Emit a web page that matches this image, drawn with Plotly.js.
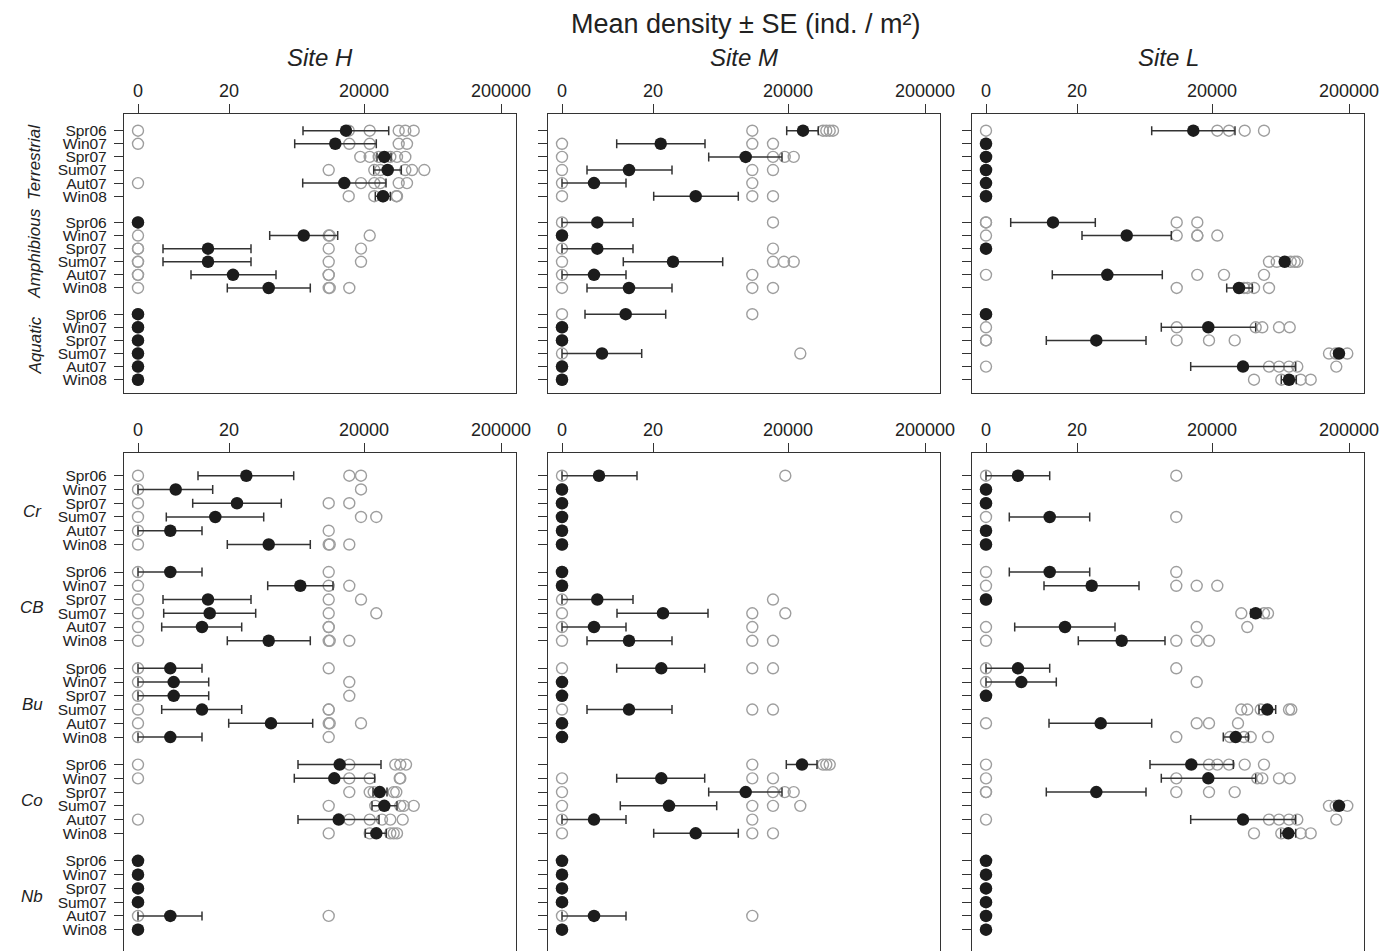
<!DOCTYPE html>
<html><head><meta charset="utf-8">
<script src="https://cdn.plot.ly/plotly-3.0.1.min.js"></script>
<style>html,body{margin:0;padding:0;overflow:hidden;background:#fff}#chart{width:1394px;height:1000px}</style>
</head><body><div id="chart"></div><script>
// ---- categories ----
const seasons = ["Spr06","Win07","Spr07","Sum07","Aut07","Win08"];
const habitatGroups = ["Terrestrial","Amphibious","Aquatic"];
const taxonGroups = ["Cr","CB","Bu","Co","Nb"];
const sites = ["Site H","Site M","Site L"];
const titleText = "Mean density \u00b1 SE (ind. / m\u00b2)";
// transformed density axis: tick positions and labels
const xTickVals = [0, 91, 226, 363];
const xTickText = ["0","20","20000","200000"];

// ---- habitat panels (values on the transformed density scale) ----
const habH_mean = [208,197.3,246.3,249.7,206.3,245, 0,165.7,70,70,95,130.7, 0,0,0,0,0,0];
const habH_lo   = [165,156.7,239,235.7,164.7,237.3, 0,131.7,25,25,53,89.3, 0,0,0,0,0,0];
const habH_hi   = [250.7,238.3,253,263.3,248,252.3, 0,199.7,113,113,138,172.3, 0,0,0,0,0,0];
const habH_reps = [
 [0,210.7,231.7,260.7,267.3,275.7],[0,211.3,231.7,260.7,269],[222.3,231.7,240.7,252.3,259,267.3],
 [190.7,236.3,242.3,267.3,274,286.3],[0,223,236.3,242.3,260.7,269],[210.7,236.3,245,258.3,259],
 [0],[0,190.7,191.7,231.7],[0,0,190.7,223],[0,0,190.7,223],[0,0,190.7,190.7],[0,190.7,191.7,211.3],
 [0],[0],[0],[0],[0],[0]
];

const habM_mean = [241,98.7,183.7,67,32,133.7, 35.3,0,35.3,111,32,67, 63.7,0,0,40,0,0];
const habM_lo   = [224.7,54.7,146.7,25,0,91.7, 0,0,0,61.3,0,25, 23,0,0,0,0,0];
const habM_hi   = [256.3,143,220,110,64,176.3, 71,0,71,160.7,64,110, 103.7,0,0,79.7,0,0];
const habM_reps = [
 [190.3,261,264.3,267.7,271],[0,190.3,211],[0,211,222.7,231.7],[0,190.3,211],[0,190.3],[0,190.3,211],
 [0,211],[0],[0,211],[0,211,222,231.7],[0,190.3],[0,190.3,211],
 [0,190.3],[0],[0],[0,238.3],[0],[0]
];

const habL_mean = [207.3,0,0,0,0,0, 67,140.7,0,298.7,121.3,253, 0,222.3,110.3,353,257,303];
const habL_lo   = [165.7,0,0,0,0,0, 24.7,96,0,296.3,66.3,240.7, 0,175.3,60.3,351,204.7,295.3];
const habL_hi   = [249,0,0,0,0,0, 109.3,185.3,0,301.3,176.3,266.3, 0,269.7,160,355,309.7,310.3];
const habL_reps = [
 [0,231.3,243,258.7,278],[0],[0],[0],[0],[0],
 [0,0,190.7,211.3],[0,190.7,211.3,211.3,231.3],[0],[283,290.7,304.7,308.7,311.3],[0,211.3,238,278],[190.7,258,261.3,268,283],
 [0],[0,190.7,269.7,276.3,293,303.7],[0,0,190.7,223,248.7],[343,349.7,361.3],[0,283,293,303,311.3,350.3],[268,295.3,314.7,324.7]
];

// ---- taxon panels ----
const taxH_mean = [108.3,37.7,99,77.3,32.3,130.7, 32.3,162.3,70,71.7,64,130.7, 32.3,35.7,35.7,64,133,32.3, 201.7,196.3,241.7,246.3,200.7,238.3, 0,0,0,0,32.3,0];
const taxH_lo   = [60,0,54.7,28.3,0,89.3, 0,129.7,25,25.7,23.7,89.3, 0,0,0,23.7,90.7,0, 160,156.3,235,234,160,227.3, 0,0,0,0,0,0];
const taxH_hi   = [155.7,74.7,143.3,125.7,64,172.3, 64,195,113,117.7,103.7,172.3, 64,70.7,70.7,103.7,174.7,64, 243,236.7,249,259,241,248.3, 0,0,0,0,64,0];
const taxH_reps = [
 [0,211.3,223],[0,223],[0,190.7,211.3],[0,223,238.3],[0,190.7],[0,190.7,191.7,211.3],
 [0,190.7],[0,190.7,211.3],[0,190.7,223],[0,190.7,238.3],[0,190.7,190.7],[0,190.7,191.7,211.3],
 [0,190.7],[0,211.3],[0,211.3],[0,190.7,190.7],[0,190.7,191.7,223],[0,190.7],
 [0,211.3,257.3,262.3,268],[0,211.3,231.7,261.7,262.3],[211.3,231.7,235.7,255.7,258.3],[190.7,237.3,262.3,265.7,275.7],[0,211.3,231.7,244,252.3,264.7],[190.7,231.7,252.3,255.7,259],
 [0],[0],[0],[0],[0,190.7],[0]
];

const taxM_mean = [37,0,0,0,0,0, 0,0,35.3,101,32,67, 99.3,0,0,67,0,0, 240,99.3,183.7,107,32,133.7, 0,0,0,0,32,0];
const taxM_lo   = [0,0,0,0,0,0, 0,0,0,55,0,25, 54.7,0,0,25,0,0, 224.3,54.7,146.7,58.3,0,91.7, 0,0,0,0,0,0];
const taxM_hi   = [75,0,0,0,0,0, 0,0,71,146,64,110, 142.7,0,0,110,0,0, 255,142.7,220,154.7,64,176.3, 0,0,0,0,64,0];
const taxM_reps = [
 [0,223.3],[0],[0],[0],[0],[0],
 [0],[0],[0,211],[0,190.3,223.3],[0,190.3],[0,190.3,211],
 [0,190.3,211],[0],[0],[0,190.3,211],[0],[0],
 [190.3,261,264.3,267.7],[0,190.3,211],[0,211,222.7,231.7],[0,190.3,211,238.3],[0,190.3],[0,190.3,211],
 [0],[0],[0],[0],[0,190.3],[0]
];

const taxL_mean = [32,0,0,63.7,0,0, 63.7,105.7,0,269.7,79,135.7, 32,35.3,0,281.3,114.7,249.7, 205.3,222.3,110.3,353,257,302.3, 0,0,0,0,0,0];
const taxL_lo   = [0,0,0,23.3,0,0, 23.3,58,0,264.7,28.7,92.3, 0,0,0,273,63,237.3, 164,175.3,60.3,351,204.7,294.7, 0,0,0,0,0,0];
const taxL_hi   = [63.7,0,0,103.7,0,0, 103.7,153,0,274.7,129,179, 63.7,70.3,0,289.7,165.7,262.3, 247.3,269.7,160,355,309.7,309.7, 0,0,0,0,0,0];
const taxL_reps = [
 [0,190.3],[0],[0],[0,190.3],[0],[0],
 [0,190.3],[0,190.3,210.7,231.3],[0],[255.3,278,282],[0,210.7,261.3],[0,190.3,210.7,223],
 [0,190.3],[0,210.7],[0],[255.3,261.3,274.7,303,305.3],[0,210.7,223,252],[190.3,244,258,264.7,282],
 [0,223,231.3,243,258.7,278],[0,190.3,271.3,276.3,293,303.7],[0,0,190.3,223,248.7],[343,349.7,361.3],[0,283,293,303,311.3,350.3],[268,295.3,314.7,324.7],
 [0],[0],[0],[0],[0],[0]
];

// ---- build ----
const FONT = "Liberation Sans, Arial, Helvetica, sans-serif";
const W = 1394, H = 1000;
const rowPos = k => Math.floor(k / 6) * 7 + (k % 6);

const panels = [
  {mean: habH_mean, lo: habH_lo, hi: habH_hi, reps: habH_reps, groups: habitatGroups},
  {mean: habM_mean, lo: habM_lo, hi: habM_hi, reps: habM_reps, groups: habitatGroups},
  {mean: habL_mean, lo: habL_lo, hi: habL_hi, reps: habL_reps, groups: habitatGroups},
  {mean: taxH_mean, lo: taxH_lo, hi: taxH_hi, reps: taxH_reps, groups: taxonGroups},
  {mean: taxM_mean, lo: taxM_lo, hi: taxM_hi, reps: taxM_reps, groups: taxonGroups},
  {mean: taxL_mean, lo: taxL_lo, hi: taxL_hi, reps: taxL_reps, groups: taxonGroups}
];

const colLeft = [124, 548, 972];
const panelW = 392;
const rowBox = [[114.3, 392.7], [453.3, 965]];
const yRanges = [[19.99, -1.25], [35.57, -1.63]];

const traces = [];
const layout = {
  width: W, height: H, margin: {l: 0, r: 0, t: 0, b: 0},
  paper_bgcolor: "#fff", plot_bgcolor: "#fff", showlegend: false,
  font: {family: FONT, color: "#222"}, annotations: []
};

panels.forEach((p, idx) => {
  const n = idx + 1, col = idx % 3, row = Math.floor(idx / 3);
  const xa = "x" + (n === 1 ? "" : n), ya = "y" + (n === 1 ? "" : n);
  const gx = [], gy = [];
  p.reps.forEach((arr, k) => arr.forEach(v => { gx.push(v); gy.push(rowPos(k)); }));
  traces.push({type: "scatter", mode: "markers", x: gx, y: gy, xaxis: xa, yaxis: ya,
    marker: {symbol: "circle-open", size: 11, color: "#9e9e9e", line: {width: 1.4, color: "#9e9e9e"}},
    hoverinfo: "x+y", cliponaxis: true});
  const my = p.mean.map((v, k) => rowPos(k));
  traces.push({type: "scatter", mode: "markers", x: p.mean, y: my, xaxis: xa, yaxis: ya,
    marker: {symbol: "circle", size: 12.5, color: "#1c1c1c", line: {width: 0}},
    error_x: {type: "data", symmetric: false,
      array: p.hi.map((h, k) => h - p.mean[k]),
      arrayminus: p.lo.map((l, k) => p.mean[k] - l),
      color: "#333", thickness: 1.5, width: 4.5},
    hoverinfo: "x+y"});

  const xk = "xaxis" + (n === 1 ? "" : n), yk = "yaxis" + (n === 1 ? "" : n);
  const left = colLeft[col];
  layout[xk] = {
    domain: [left / W, (left + panelW) / W], anchor: ya, side: "top",
    range: [-14, 378], tickmode: "array", tickvals: xTickVals, ticktext: xTickText,
    ticks: "outside", ticklen: 9, tickwidth: 1.2, tickcolor: "#333",
    showline: true, mirror: true, linecolor: "#333", linewidth: 1.3,
    showgrid: false, zeroline: false, fixedrange: true,
    tickfont: {family: FONT, size: 18, color: "#222"}
  };
  const nRows = p.mean.length;
  const tv = [], tt = [];
  for (let k = 0; k < nRows; k++) { tv.push(rowPos(k)); tt.push(seasons[k % 6]); }
  const box = rowBox[row];
  layout[yk] = {
    domain: [1 - box[1] / H, 1 - box[0] / H], anchor: xa,
    range: yRanges[row], tickmode: "array", tickvals: tv, ticktext: tt,
    showticklabels: col === 0, ticklabelstandoff: 4,
    ticks: "outside", ticklen: 9, tickwidth: 1.2, tickcolor: "#333",
    showline: true, mirror: true, linecolor: "#333", linewidth: 1.3,
    showgrid: false, zeroline: false, fixedrange: true,
    tickfont: {family: FONT, size: 15.5, color: "#222"}
  };
  if (col === 0) {
    p.groups.forEach((g, gi) => {
      layout.annotations.push({
        text: "<i>" + g + "</i>", xref: "paper", yref: ya,
        x: (row === 0 ? 35 : 32) / W, y: gi * 7 + 2.5, yshift: row === 0 ? 1.5 : -1.5,
        xanchor: "center", yanchor: "middle", showarrow: false,
        textangle: row === 0 ? -90 : 0,
        font: {family: FONT, size: 17, color: "#222"}
      });
    });
  }
});

sites.forEach((s, i) => {
  layout.annotations.push({text: "<i>" + s + "</i>", xref: "paper", yref: "paper",
    x: (colLeft[i] + panelW / 2) / W, y: 1 - 57 / H, xanchor: "center", yanchor: "middle",
    showarrow: false, font: {family: FONT, size: 24, color: "#222"}});
});
layout.annotations.push({text: titleText, xref: "paper", yref: "paper",
  x: 745 / W, y: 1 - 24 / H, xanchor: "center", yanchor: "middle",
  showarrow: false, font: {family: FONT, size: 27, color: "#222"}});

Plotly.newPlot("chart", traces, layout, {displayModeBar: false, staticPlot: false});
</script></body></html>
